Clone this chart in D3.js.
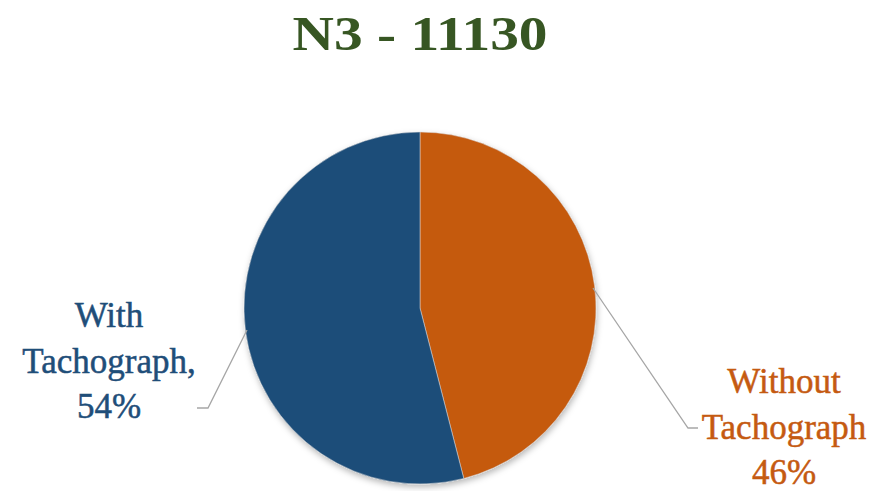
<!DOCTYPE html>
<html><head><meta charset="utf-8">
<script src="https://cdn.jsdelivr.net/npm/d3@7"></script>
<style>html,body{margin:0;padding:0;background:#fff;}svg{display:block;}</style>
</head><body>
<script>
const title = "N3 - 11130";
const categories = ["Without Tachograph", "With Tachograph"];
const values = [46, 54];
const labelLines = [["Without", "Tachograph", "46%"], ["With", "Tachograph,", "54%"]];
const colors = ["#C55A11", "#1F4E79"];

const W = 876, H = 491;
const cx = 420, cy = 308, R = 176;
const font = "'Liberation Serif','DejaVu Serif',serif";

const svg = d3.select("body").append("svg").attr("width", W).attr("height", H);
const defs = svg.append("defs");
const f = defs.append("filter").attr("id", "sh").attr("x", "-20%").attr("y", "-20%").attr("width", "140%").attr("height", "140%");
f.append("feDropShadow").attr("dx", 1).attr("dy", 3).attr("stdDeviation", 3).attr("flood-color", "#000").attr("flood-opacity", 0.28);

svg.append("text").attr("x", 420).attr("y", 50).attr("text-anchor", "middle")
  .attr("font-family", font).attr("font-weight", "bold").attr("font-size", 49)
  .attr("fill", "#375623").attr("textLength", 255).attr("lengthAdjust", "spacingAndGlyphs").text(title);

const pie = d3.pie().sort(null).value(d => d)(values);
const arc = d3.arc().innerRadius(0).outerRadius(R);
const g = svg.append("g").attr("transform", `translate(${cx},${cy})`);
g.append("g").attr("filter", "url(#sh)").selectAll("path").data(pie).join("path")
  .attr("d", arc).attr("fill", (d, i) => colors[i])
  .attr("stroke", "#d9d9d9").attr("stroke-width", 0.5);

// leader lines and labels
const labelPos = [
  { x: 784, y: 393, anchor: [593, 288], elbow: [688, 428], end: [698, 428] },
  { x: 109, y: 327, anchor: [247, 330], elbow: [208, 408], end: [197, 408] }
];
labelPos.forEach((p, i) => {
  svg.append("polyline")
    .attr("points", [p.anchor, p.elbow, p.end].map(q => q.join(",")).join(" "))
    .attr("fill", "none").attr("stroke", "#A6A6A6").attr("stroke-width", 1.3);
  const t = svg.append("text").attr("text-anchor", "middle")
    .attr("font-family", font).attr("font-size", 35).attr("fill", colors[i])
    .attr("stroke", colors[i]).attr("stroke-width", 0.5);
  labelLines[i].forEach((ln, j) => {
    t.append("tspan").attr("x", p.x).attr("y", p.y + j * 45.5).text(ln);
  });
});
</script>
</body></html>
